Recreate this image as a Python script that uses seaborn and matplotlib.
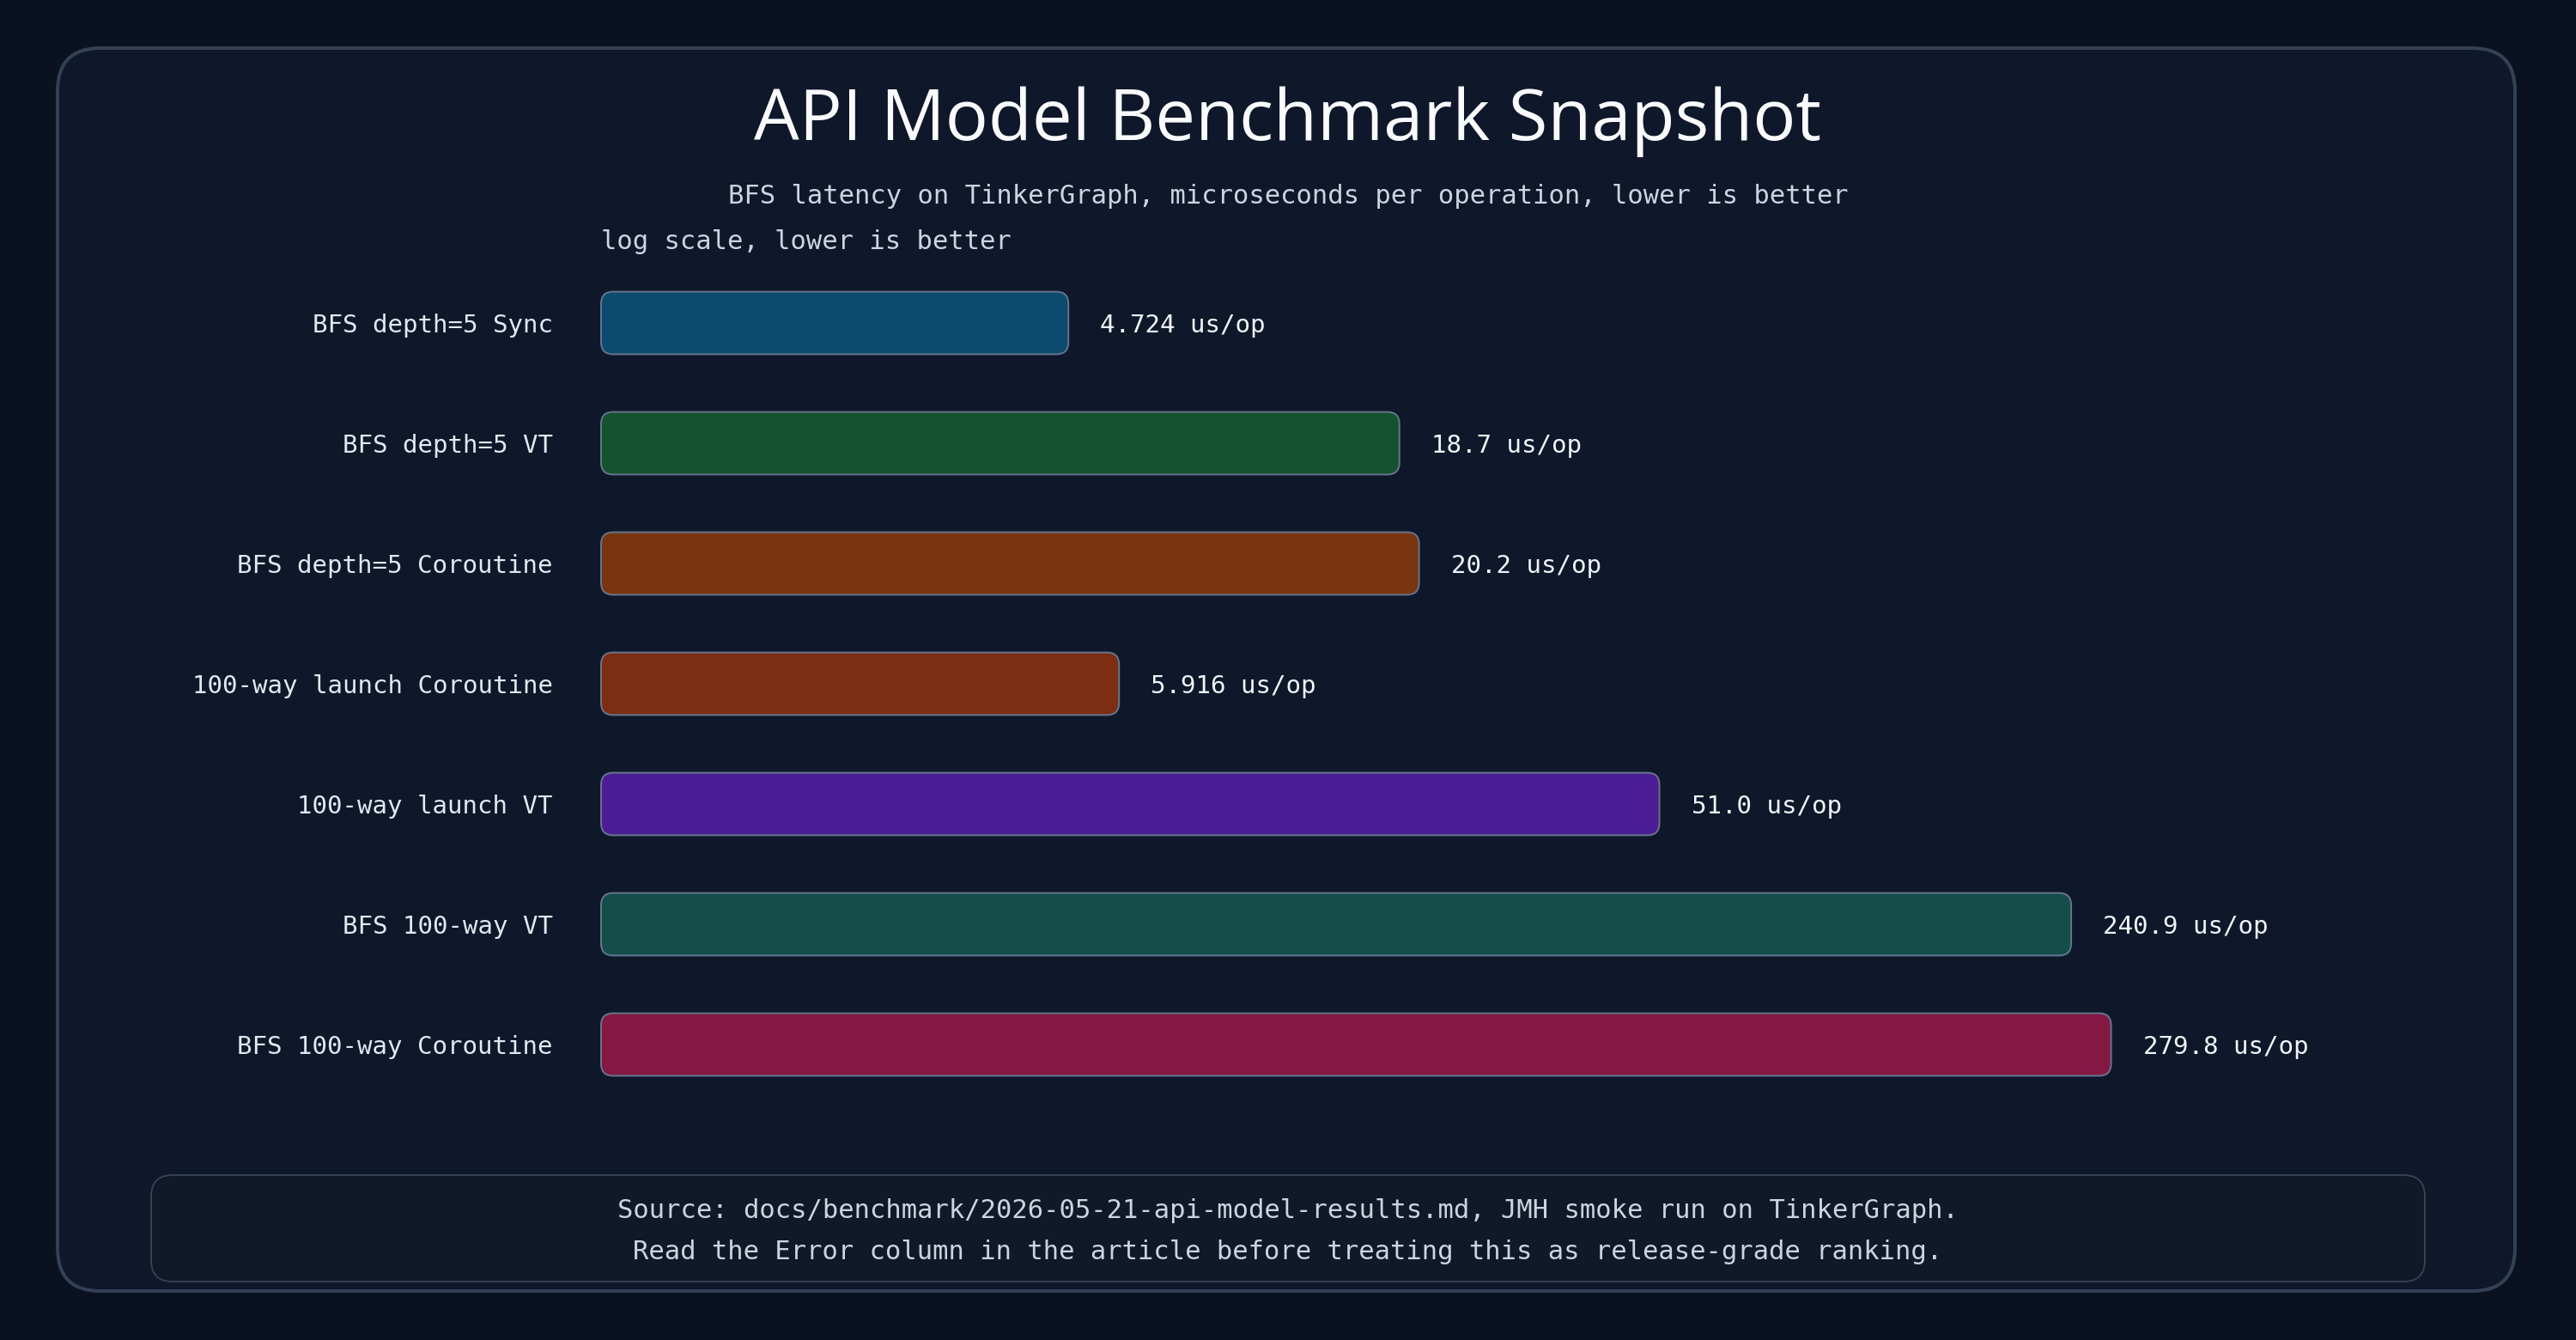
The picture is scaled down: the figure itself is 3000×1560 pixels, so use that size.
import numpy as np
import pandas as pd
import matplotlib
matplotlib.use("Agg")
import matplotlib.pyplot as plt
import seaborn as sns
from matplotlib.patches import FancyBboxPatch
from matplotlib.transforms import IdentityTransform

# ---------------- data ----------------
categories = [
    "BFS depth=5 Sync",
    "BFS depth=5 VT",
    "BFS depth=5 Coroutine",
    "100-way launch Coroutine",
    "100-way launch VT",
    "BFS 100-way VT",
    "BFS 100-way Coroutine",
]
latency_us = [4.724, 18.7, 20.2, 5.916, 51.0, 240.9, 279.8]
bar_colors = ["#0c4a6e", "#14532d", "#78350f", "#7c2d12", "#4c1d95", "#134e4a", "#831843"]
value_labels = [f"{v:.3f} us/op" if v < 10 else f"{v:.1f} us/op" for v in latency_us]

title = "API Model Benchmark Snapshot"
subtitle = "BFS latency on TinkerGraph, microseconds per operation, lower is better"
scale_note = "log scale, lower is better"
footer_lines = [
    "Source: docs/benchmark/2026-05-21-api-model-results.md, JMH smoke run on TinkerGraph.",
    "Read the Error column in the article before treating this as release-grade ranking.",
]

# ---------------- style ----------------
W, H, DPI = 3000, 1560, 100
PT = 72.0 / DPI  # points per pixel

sns.set_theme(style="dark")
plt.rcParams["font.family"] = ["DejaVu Sans Mono", "DejaVu Sans"]

BG = "#0a1221"
CARD = "#0f172a"
BORDER = "#334155"
TEXT = "#e2e8f0"
MUTED = "#cbd5e1"

fig = plt.figure(figsize=(W / DPI, H / DPI), dpi=DPI, facecolor=BG)


def px_box(x0, y0, x1, y1, r, fc, ec, lw_px, z):
    p = FancyBboxPatch((x0, H - y1), x1 - x0, y1 - y0,
                       boxstyle=f"round,pad=0,rounding_size={r}",
                       transform=IdentityTransform(), fc=fc, ec=ec,
                       lw=lw_px * PT, zorder=z)
    fig.add_artist(p)
    return p


# card and footer panel
px_box(67, 56, 2929, 1503, 50, CARD, BORDER, 4, -10)
px_box(176, 1368, 2824, 1492, 25, "#111827", BORDER, 2, -9)

# ---------------- axes ----------------
ax_l, ax_r, ax_t, ax_b = 700, 2800, 306, 1286
ax = fig.add_axes([ax_l / W, 1 - ax_b / H, (ax_r - ax_l) / W, (ax_b - ax_t) / H])
ax.set_facecolor("none")

df = pd.DataFrame({"test": categories, "latency": latency_us})
sns.barplot(data=df, x="latency", y="test", hue="test", palette=bar_colors,
            orient="h", width=0.52, ax=ax, legend=False, saturation=1)

ax.set_xscale("function", functions=(np.log1p, np.expm1))
ax.set_xlim(0, 838)
ax.set_ylim(len(categories) - 0.5, -0.5)
ax.set_xticks([])
ax.set_xlabel("")
ax.set_ylabel("")
ax.grid(False)
for s in ax.spines.values():
    s.set_visible(False)
ax.tick_params(axis="y", length=0, pad=56 * PT, labelsize=21, labelcolor=TEXT)
for t in ax.get_yticklabels():
    t.set_fontfamily(["DejaVu Sans Mono", "DejaVu Sans"])
    t.set_verticalalignment("center_baseline")

for cont, lab in zip(ax.containers, value_labels):
    for a in ax.bar_label(cont, labels=[lab], padding=37 * PT, fontsize=21, color="#f1f5f9",
                          family=["DejaVu Sans Mono", "DejaVu Sans"]):
        a.set_verticalalignment("center_baseline")

fig.canvas.draw()
for patch in list(ax.patches):
    bb = patch.get_window_extent()
    if bb.width <= 0:
        continue
    rp = FancyBboxPatch((bb.x0, bb.y0), bb.width, bb.height,
                        boxstyle="round,pad=0,rounding_size=14",
                        transform=IdentityTransform(),
                        fc=patch.get_facecolor(), ec="#64748b", lw=2 * PT, zorder=3)
    rp.set_clip_on(False)
    fig.add_artist(rp)
    patch.set_visible(False)

# ---------------- text ----------------
fig.text(1500 / W, 1 - 163 / H, title, ha="center", va="baseline", fontsize=60,
         color="#f8fafc", family=["Open Sans", "DejaVu Sans"])
fig.text(1500 / W, 1 - 237 / H, subtitle, ha="center", va="baseline", fontsize=22,
         color=MUTED)
fig.text(700 / W, 1 - 290 / H, scale_note, ha="left", va="baseline", fontsize=22,
         color=MUTED)
fig.text(1500 / W, 1 - 1418 / H, footer_lines[0], ha="center", va="baseline",
         fontsize=22, color=MUTED)
fig.text(1500 / W, 1 - 1466 / H, footer_lines[1], ha="center", va="baseline",
         fontsize=22, color=MUTED)

fig.savefig("out.png", dpi=DPI, facecolor=fig.get_facecolor())
